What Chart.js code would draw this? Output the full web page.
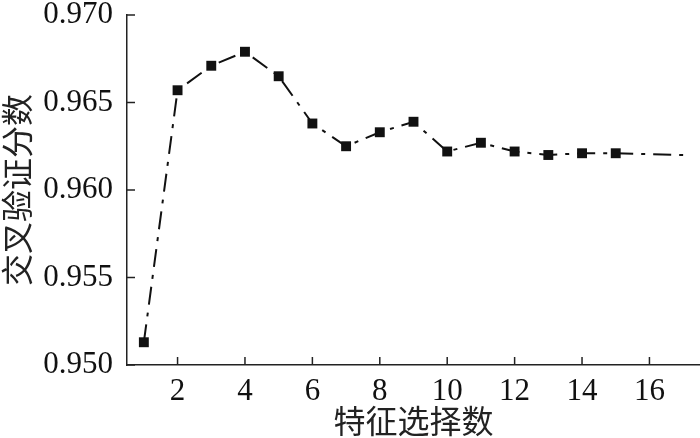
<!DOCTYPE html>
<html><head><meta charset="utf-8">
<script src="https://cdn.jsdelivr.net/npm/chart.js@4.4.0/dist/chart.umd.min.js"></script>
<style>html,body{margin:0;padding:0;background:#fff;}#wrap{width:700px;height:438px;}</style>
</head><body><div id="wrap"><canvas id="c" width="700" height="438"></canvas></div>
<script>
const features = [1,2,3,4,5,6,7,8,9,10,11,12,13,14,15,17];
const scores = [0.9513,0.9657,0.9671,0.9679,0.9665,0.9638,0.9625,0.9633,0.9639,0.9622,0.9627,0.9622,0.9620,0.9621,0.9621,0.9620];
const markerShown = [1,1,1,1,1,1,1,1,1,1,1,1,1,1,1,0];
const xTicks = [2,4,6,8,10,12,14,16];
const yTicks = [0.950,0.955,0.960,0.965,0.970];
const xTitle = '特征选择数';
const yTitle = '交叉验证分数';

const tickFont = {family:'"Liberation Serif", "Times New Roman", serif', size:31, lineHeight:'30px'};
const titleFont = {family:'"Noto Sans CJK SC", sans-serif', size:32, lineHeight:1};

const innerTicks = {
  id:'innerTicks',
  afterDraw(chart){
    const ctx = chart.ctx, xs = chart.scales.x, ys = chart.scales.y;
    ctx.save();
    ctx.strokeStyle = '#222'; ctx.lineWidth = 1.5;
    xTicks.forEach(v=>{const p = xs.getPixelForValue(v); ctx.beginPath(); ctx.moveTo(p, ys.bottom); ctx.lineTo(p, ys.bottom-8); ctx.stroke();});
    yTicks.forEach(v=>{const p = ys.getPixelForValue(v); ctx.beginPath(); ctx.moveTo(xs.left, p); ctx.lineTo(xs.left+8, p); ctx.stroke();});
    ctx.restore();
  }
};
const bg = {id:'bg', beforeDraw(c){const x=c.ctx; x.save(); x.fillStyle='#fff'; x.fillRect(0,0,c.width,c.height); x.restore();}};

new Chart(document.getElementById('c'), {
  type:'line',
  data:{datasets:[{
    data: features.map((f,i)=>({x:f, y:scores[i]})),
    borderColor:'#111', backgroundColor:'#111', borderWidth:2,
    borderDash:[18,8,4,8],
    pointStyle:'rect', pointRadius: markerShown.map(m=>m?7:0),
    pointBackgroundColor:'#111', pointBorderWidth:0,
    tension:0, fill:false
  }]},
  options:{
    responsive:false, animation:false, devicePixelRatio:1,
    layout:{padding:{top:0,left:0,right:0,bottom:0}, autoPadding:false},
    plugins:{legend:{display:false}, tooltip:{enabled:false}},
    scales:{
      x:{type:'linear', min:0.5, max:17.5,
        grid:{display:false}, border:{display:true,color:'#222',width:1.5},
        afterBuildTicks:s=>{s.ticks = xTicks.map(v=>({value:v}));},
        afterFit:s=>{s.height = 73; s.paddingLeft = 0; s.paddingRight = 0;},
        ticks:{font:tickFont, color:'#111', padding:4, maxRotation:0, autoSkip:false},
        title:{display:true, text:xTitle, font:titleFont, color:'#222', padding:{top:0,bottom:1.5}}
      },
      y:{type:'linear', min:0.950, max:0.970,
        grid:{display:false}, border:{display:true,color:'#222',width:1.5},
        afterBuildTicks:s=>{s.ticks = yTicks.map(v=>({value:v}));},
        afterFit:s=>{s.width = 127; s.paddingTop = 15; s.paddingBottom = 0;},
        ticks:{font:tickFont, color:'#111', padding:6, callback:v=>v.toFixed(3)},
        title:{display:true, text:yTitle, font:titleFont, color:'#222', padding:{top:1,bottom:0}}
      }
    }
  },
  plugins:[bg, innerTicks]
});
</script></body></html>
